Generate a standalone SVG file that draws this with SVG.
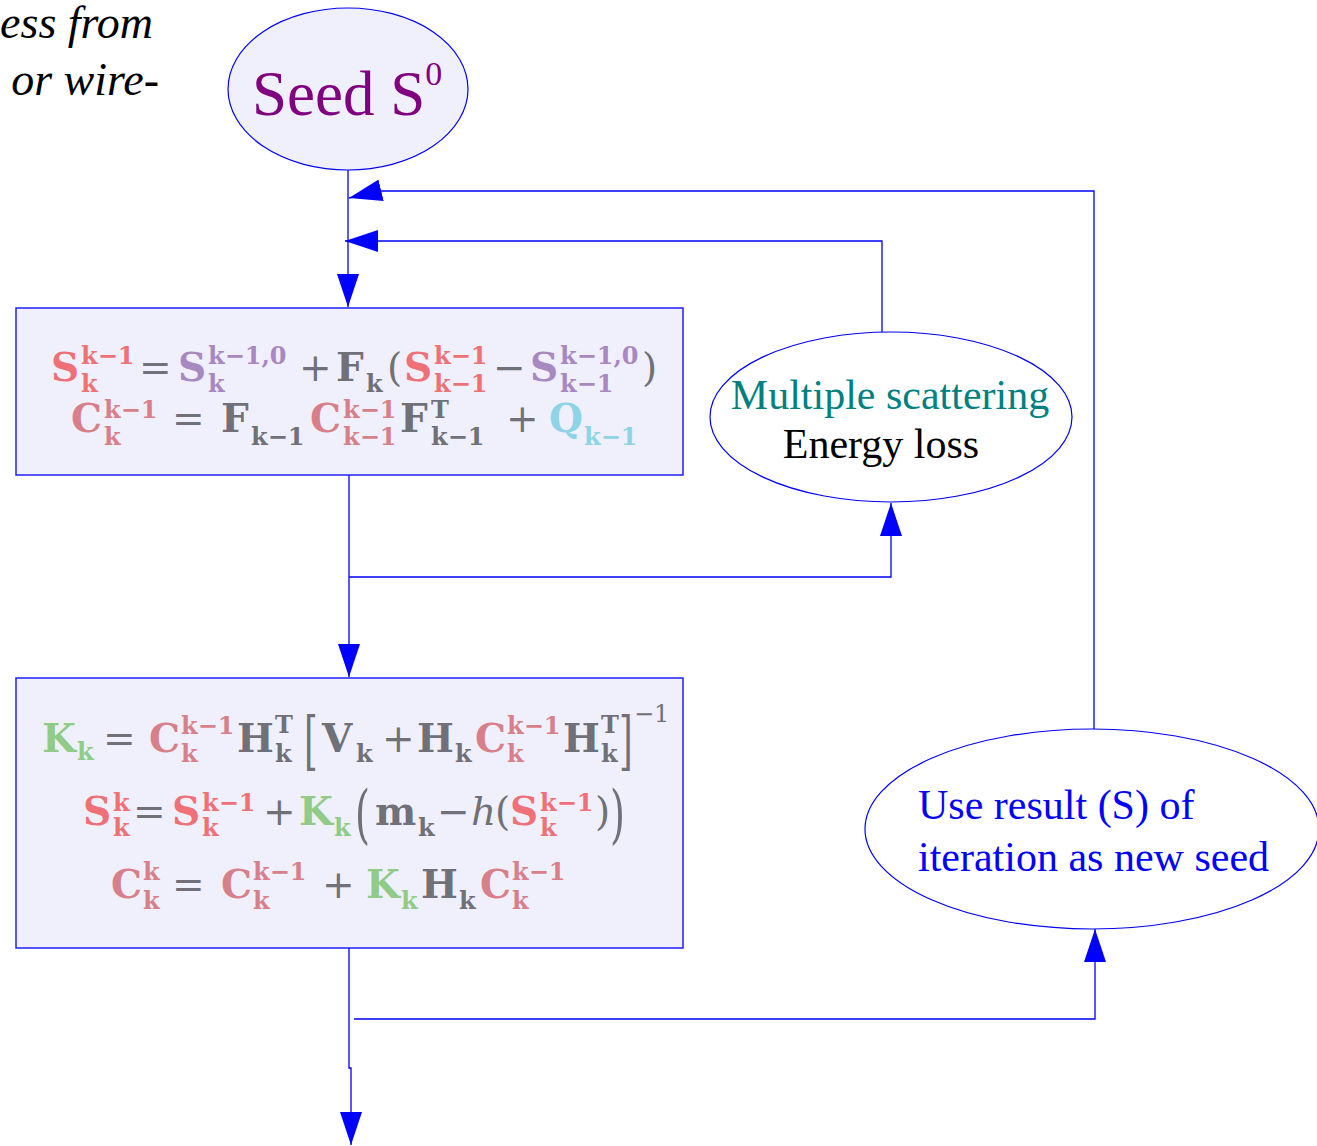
<svg xmlns="http://www.w3.org/2000/svg" width="1317" height="1146" viewBox="0 0 1317 1146">
<defs>
<marker id="ah" markerUnits="userSpaceOnUse" markerWidth="33" markerHeight="22" refX="33" refY="11" orient="auto" viewBox="0 0 33 22">
<path d="M0,0 L33,11 L0,22 z" fill="#0000ff"/>
</marker>
<style>
.con{fill:none;stroke:#0000ff;stroke-width:1.3}
.box{fill:#f0f0fc;stroke:#2020ff;stroke-width:1.5}
.ell{fill:#ffffff;stroke:#0000ff;stroke-width:1.2}
.tm{font-family:"Liberation Serif","Times New Roman",serif}
.m{font-family:"DejaVu Serif",serif;font-size:39px;font-weight:bold}
.o{font-family:"DejaVu Serif",serif;font-size:39px}
.s{font-family:"DejaVu Serif",serif;font-size:24px;font-weight:bold}
.sr{font-family:"DejaVu Serif",serif;font-size:24px}
.big{font-family:"DejaVu Serif",serif;font-size:64px}
.r{fill:#f07078}
.c{fill:#d8808a}
.p{fill:#a888c0}
.g{fill:#707078}
.q{fill:#8fd4e6}
.k{fill:#90cc88}
</style>
</defs>
<rect width="1317" height="1146" fill="#ffffff"/>
<g id="caption">
<text class="tm" x="153" y="38" font-size="46" font-style="italic" text-anchor="end" fill="#000">ess from</text>
<text class="tm" x="159" y="95" font-size="46" font-style="italic" text-anchor="end" fill="#000">or wire-</text>
</g>
<g id="connectors">
<path class="con" d="M348,170 V307" marker-end="url(#ah)"/>
<path class="con" d="M349,475 V677" marker-end="url(#ah)"/>
<path class="con" d="M349,577 H891 V503" marker-end="url(#ah)"/>
<path class="con" d="M882,332 V241 H345" marker-end="url(#ah)"/>
<path class="con" d="M349,948 V1068 H351 V1145" marker-end="url(#ah)"/>
<path class="con" d="M354,1019 H1095 V929" marker-end="url(#ah)"/>
<path class="con" d="M1094,729 V191 H378 L349,198" marker-end="url(#ah)"/>
</g>
<g id="seed">
<ellipse cx="348" cy="89" rx="120" ry="81" fill="#f0f0fc" stroke="#0000ff" stroke-width="1.2"/>
<text class="tm" x="252" y="115" font-size="63" fill="#800080">Seed S<tspan dy="-30" font-size="34">0</tspan></text>
</g>
<g id="predict">
<rect class="box" x="16" y="308" width="667" height="167"/>
<text class="m r" x="51" y="381">S</text>
<text class="s r" x="81" y="364">k−1</text>
<text class="s r" x="81" y="392">k</text>
<text class="o g" x="139" y="381">=</text>
<text class="m p" x="178" y="381">S</text>
<text class="s p" x="208" y="364">k−1,0</text>
<text class="s p" x="208" y="392">k</text>
<text class="o g" x="299" y="381">+</text>
<text class="m g" x="336" y="381">F</text>
<text class="s g" x="366" y="392">k</text>
<text class="o g" x="387" y="381">(</text>
<text class="m r" x="404" y="381">S</text>
<text class="s r" x="434" y="364">k−1</text>
<text class="s r" x="434" y="392">k−1</text>
<text class="o g" x="493" y="381">−</text>
<text class="m p" x="530" y="381">S</text>
<text class="s p" x="560" y="364">k−1,0</text>
<text class="s p" x="560" y="392">k−1</text>
<text class="o g" x="642" y="381">)</text>
<text class="m c" x="71" y="432">C</text>
<text class="s c" x="104" y="418">k−1</text>
<text class="s c" x="104" y="445">k</text>
<text class="o g" x="172" y="432">=</text>
<text class="m g" x="221" y="432">F</text>
<text class="s g" x="251" y="445">k−1</text>
<text class="m c" x="310" y="432">C</text>
<text class="s c" x="343" y="418">k−1</text>
<text class="s c" x="343" y="445">k−1</text>
<text class="m g" x="400" y="432">F</text>
<text class="s g" x="431" y="418">T</text>
<text class="s g" x="431" y="445">k−1</text>
<text class="o g" x="506" y="432">+</text>
<text class="m q" x="549" y="432">Q</text>
<text class="s q" x="584" y="445">k−1</text>
</g>
<g id="update">
<rect class="box" x="16" y="678" width="667" height="270"/>
<text class="m k" x="42" y="752">K</text>
<text class="s k" x="77" y="760">k</text>
<text class="o g" x="103" y="752">=</text>
<text class="m c" x="149" y="752">C</text>
<text class="s c" x="181" y="734">k−1</text>
<text class="s c" x="181" y="762">k</text>
<text class="m g" x="237" y="752">H</text>
<text class="s g" x="275" y="733">T</text>
<text class="s g" x="275" y="762">k</text>
<text class="big g" transform="translate(304,763) scale(0.55,1)" x="0" y="0">[</text>
<text class="m g" x="322" y="752">V</text>
<text class="s g" x="356" y="762">k</text>
<text class="o g" x="382" y="752">+</text>
<text class="m g" x="417" y="752">H</text>
<text class="s g" x="455" y="762">k</text>
<text class="m c" x="475" y="752">C</text>
<text class="s c" x="507" y="734">k−1</text>
<text class="s c" x="507" y="762">k</text>
<text class="m g" x="563" y="752">H</text>
<text class="s g" x="601" y="733">T</text>
<text class="s g" x="601" y="762">k</text>
<text class="big g" transform="translate(619,763) scale(0.55,1)" x="0" y="0">]</text>
<text class="sr g" x="634" y="722">−1</text>
<text class="m r" x="83" y="825">S</text>
<text class="s r" x="113" y="811">k</text>
<text class="s r" x="113" y="836">k</text>
<text class="o g" x="133" y="825">=</text>
<text class="m r" x="172" y="825">S</text>
<text class="s r" x="202" y="811">k−1</text>
<text class="s r" x="202" y="836">k</text>
<text class="o g" x="263" y="825">+</text>
<text class="m k" x="299" y="825">K</text>
<text class="s k" x="334" y="836">k</text>
<text class="big g" transform="translate(355,836) scale(0.6,1)" x="0" y="0">(</text>
<text class="m g" x="375" y="825">m</text>
<text class="s g" x="418" y="836">k</text>
<text class="o g" x="437" y="825">−</text>
<text class="o g" x="471" y="825" font-style="italic">h</text>
<text class="o g" x="495" y="825">(</text>
<text class="m r" x="510" y="825">S</text>
<text class="s r" x="540" y="811">k−1</text>
<text class="s r" x="540" y="836">k</text>
<text class="o g" x="595" y="825">)</text>
<text class="big g" transform="translate(610,836) scale(0.6,1)" x="0" y="0">)</text>
<text class="m c" x="111" y="898">C</text>
<text class="s c" x="143" y="880">k</text>
<text class="s c" x="143" y="909">k</text>
<text class="o g" x="172" y="898">=</text>
<text class="m c" x="221" y="898">C</text>
<text class="s c" x="253" y="880">k−1</text>
<text class="s c" x="253" y="909">k</text>
<text class="o g" x="322" y="898">+</text>
<text class="m k" x="366" y="898">K</text>
<text class="s k" x="401" y="909">k</text>
<text class="m g" x="421" y="898">H</text>
<text class="s g" x="459" y="909">k</text>
<text class="m c" x="480" y="898">C</text>
<text class="s c" x="512" y="880">k−1</text>
<text class="s c" x="512" y="909">k</text>
</g>
<g id="scattering">
<ellipse class="ell" cx="891" cy="417" rx="181" ry="85"/>
<text class="tm" x="890" y="409" font-size="42" text-anchor="middle" fill="#008080">Multiple scattering</text>
<text class="tm" x="881" y="458" font-size="42" text-anchor="middle" fill="#000000">Energy loss</text>
</g>
<g id="newseed">
<ellipse class="ell" cx="1092" cy="829" rx="227" ry="100"/>
<text class="tm" x="918" y="819" font-size="42" fill="#0000ff">Use result (S) of</text>
<text class="tm" x="918" y="871" font-size="42" fill="#0000ff">iteration as new seed</text>
</g>
</svg>
